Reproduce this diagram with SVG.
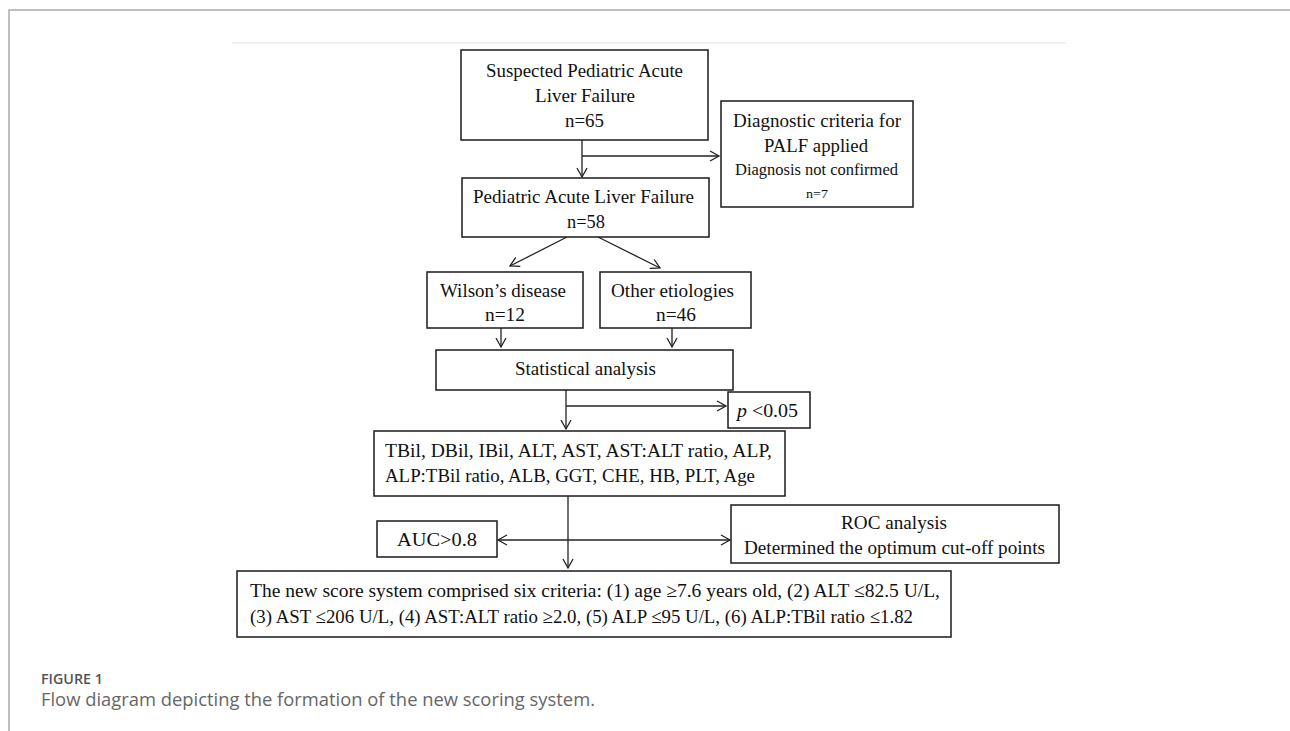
<svg xmlns="http://www.w3.org/2000/svg" width="1290" height="731" viewBox="0 0 1290 731">
<defs>
<style>
.box{fill:#fff;stroke:#1a1a1a;stroke-width:1.5}
.t{font-family:"Liberation Serif","Times New Roman",serif;font-size:19px;fill:#111}
.s{font-size:16px}
.xs{font-size:13px}
.c{text-anchor:middle}
.con line{stroke:#222;stroke-width:1.3;fill:none}
.cap1{font-family:"Open Sans","Liberation Sans",sans-serif;font-size:14px;font-weight:600;fill:#555}
.cap2{font-family:"Open Sans","Liberation Sans",sans-serif;font-size:18px;fill:#666}
</style>
<marker id="ah" viewBox="-10 -6 12 12" refX="0" refY="0" markerWidth="12" markerHeight="12" markerUnits="userSpaceOnUse" orient="auto">
<path d="M-9,-5 L0,0 L-9,5" fill="none" stroke="#222" stroke-width="1.3"/>
</marker>
</defs>
<rect width="1290" height="731" fill="#fff"/>
<path d="M9,731 V10 H1290" fill="none" stroke="#aaa" stroke-width="1.5"/>
<line x1="232" y1="43" x2="1066" y2="43" stroke="#f0f0f0" stroke-width="2"/>

<g id="connectors" class="con">
<line x1="582" y1="140" x2="582" y2="177" marker-end="url(#ah)"/>
<line x1="582" y1="156" x2="719" y2="156" marker-end="url(#ah)"/>
<line x1="567" y1="237" x2="510" y2="266" marker-end="url(#ah)"/>
<line x1="598" y1="237" x2="660" y2="268" marker-end="url(#ah)"/>
<line x1="501" y1="328" x2="501" y2="347" marker-end="url(#ah)"/>
<line x1="672" y1="328" x2="672" y2="347" marker-end="url(#ah)"/>
<line x1="566" y1="390" x2="566" y2="429" marker-end="url(#ah)"/>
<line x1="566" y1="406" x2="726" y2="406" marker-end="url(#ah)"/>
<line x1="568" y1="496" x2="568" y2="568" marker-end="url(#ah)"/>
<line x1="568" y1="540" x2="498" y2="540" marker-end="url(#ah)"/>
<line x1="568" y1="540" x2="730" y2="540" marker-end="url(#ah)"/>
</g>

<g id="suspected">
<rect class="box" x="461" y="50" width="247" height="90"/>
<text class="t" x="486" y="77" textLength="197" lengthAdjust="spacingAndGlyphs">Suspected Pediatric Acute</text>
<text class="t" x="535" y="102" textLength="100" lengthAdjust="spacingAndGlyphs">Liver Failure</text>
<text class="t" x="565" y="127" textLength="39" lengthAdjust="spacingAndGlyphs">n=65</text>
</g>
<g id="excluded">
<rect class="box" x="721" y="101" width="192" height="106"/>
<text class="t" x="733" y="127" textLength="168" lengthAdjust="spacingAndGlyphs">Diagnostic criteria for</text>
<text class="t" x="764" y="152" textLength="104" lengthAdjust="spacingAndGlyphs">PALF applied</text>
<text class="t s" x="735" y="175" textLength="163" lengthAdjust="spacingAndGlyphs">Diagnosis not confirmed</text>
<text class="t xs" x="806" y="198" textLength="22" lengthAdjust="spacingAndGlyphs">n=7</text>
</g>
<g id="palf">
<rect class="box" x="462" y="178" width="247" height="59"/>
<text class="t" x="473" y="203" textLength="221" lengthAdjust="spacingAndGlyphs">Pediatric Acute Liver Failure</text>
<text class="t" x="567" y="228" textLength="38" lengthAdjust="spacingAndGlyphs">n=58</text>
</g>
<g id="wilson">
<rect class="box" x="427" y="272" width="156" height="56"/>
<text class="t" x="440" y="297" textLength="126" lengthAdjust="spacingAndGlyphs">Wilson’s disease</text>
<text class="t" x="485" y="321" textLength="40" lengthAdjust="spacingAndGlyphs">n=12</text>
</g>
<g id="other">
<rect class="box" x="600" y="272" width="151" height="56"/>
<text class="t" x="611" y="297" textLength="123" lengthAdjust="spacingAndGlyphs">Other etiologies</text>
<text class="t" x="656" y="321" textLength="40" lengthAdjust="spacingAndGlyphs">n=46</text>
</g>
<g id="stats">
<rect class="box" x="436" y="350" width="297" height="40"/>
<text class="t" x="515" y="375" textLength="141" lengthAdjust="spacingAndGlyphs">Statistical analysis</text>
</g>
<g id="pval">
<rect class="box" x="728" y="392" width="82" height="36"/>
<text class="t" x="737" y="417" textLength="61" lengthAdjust="spacingAndGlyphs"><tspan font-style="italic">p</tspan> &lt;0.05</text>
</g>
<g id="variables">
<rect class="box" x="374" y="431" width="411" height="65"/>
<text class="t" x="385" y="457" textLength="387" lengthAdjust="spacingAndGlyphs">TBil, DBil, IBil, ALT, AST, AST:ALT ratio, ALP,</text>
<text class="t" x="385" y="482" textLength="370" lengthAdjust="spacingAndGlyphs">ALP:TBil ratio, ALB, GGT, CHE, HB, PLT, Age</text>
</g>
<g id="auc">
<rect class="box" x="377" y="521" width="120" height="36"/>
<text class="t" x="397" y="546" textLength="80" lengthAdjust="spacingAndGlyphs">AUC&gt;0.8</text>
</g>
<g id="roc">
<rect class="box" x="731" y="505" width="328" height="58"/>
<text class="t" x="841" y="529" textLength="106" lengthAdjust="spacingAndGlyphs">ROC analysis</text>
<text class="t" x="744" y="554" textLength="301" lengthAdjust="spacingAndGlyphs">Determined the optimum cut-off points</text>
</g>
<g id="score">
<rect class="box" x="237" y="571" width="714" height="66"/>
<text class="t" x="250" y="597" textLength="690" lengthAdjust="spacingAndGlyphs">The new score system comprised six criteria: (1) age ≥7.6 years old, (2) ALT ≤82.5 U/L,</text>
<text class="t" x="250" y="623" textLength="663" lengthAdjust="spacingAndGlyphs">(3) AST ≤206 U/L, (4) AST:ALT ratio ≥2.0, (5) ALP ≤95 U/L, (6) ALP:TBil ratio ≤1.82</text>
</g>

<text class="cap1" x="41" y="684" textLength="62" lengthAdjust="spacingAndGlyphs">FIGURE 1</text>
<text class="cap2" x="41" y="706" textLength="554" lengthAdjust="spacingAndGlyphs">Flow diagram depicting the formation of the new scoring system.</text>
</svg>
